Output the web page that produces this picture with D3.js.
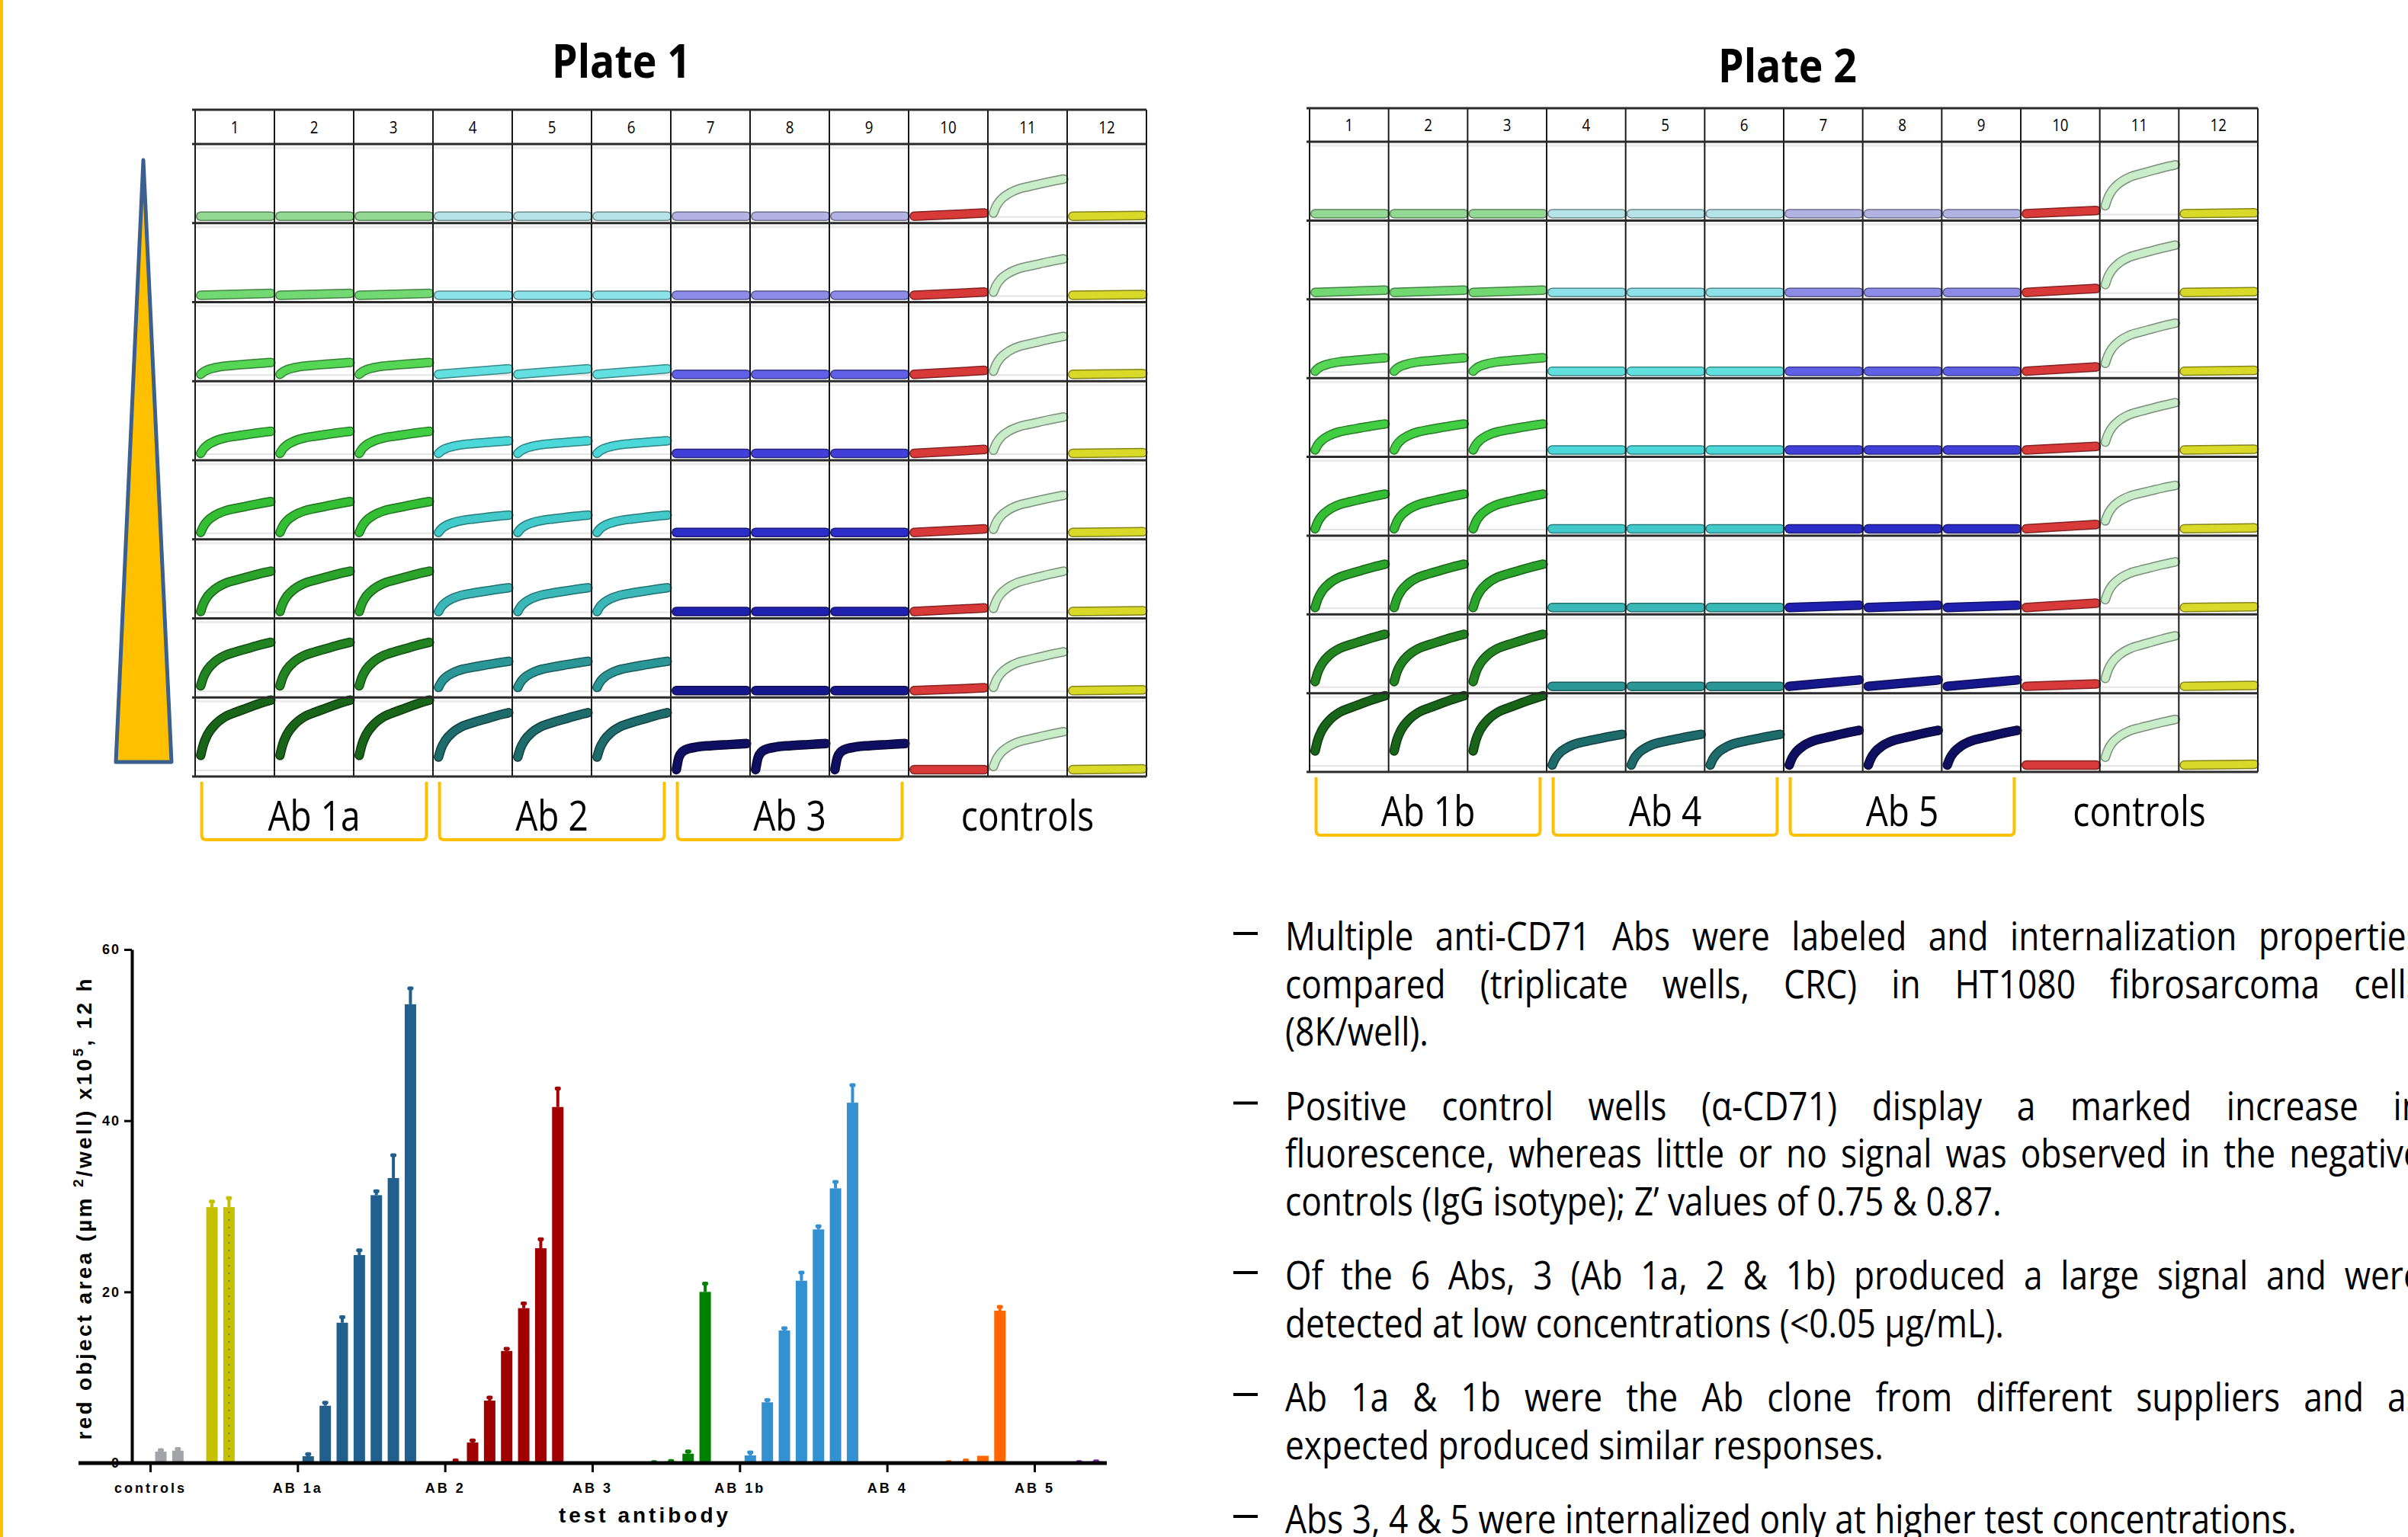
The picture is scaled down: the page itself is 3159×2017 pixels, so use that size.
<!DOCTYPE html>
<html>
<head>
<meta charset="utf-8">
<script src="https://cdn.jsdelivr.net/npm/d3@7"></script>
<style>
body { margin: 0; background: #fff; }
svg { display: block; }
</style>
</head>
<body>
<svg id="chart" width="3159" height="2017"></svg>
<script>
// ---------------- data: plate wells ----------------
var plateCols = d3.range(1, 13)
var plateRows = d3.range(8)

// final height of each well trace, as fraction of the well height (rows 1..8)
var ab1aAmp = [0, 0.025, 0.15, 0.28, 0.39, 0.51, 0.61, 0.88]
var ab2Amp = [0, 0, 0.07, 0.16, 0.22, 0.30, 0.37, 0.72]
var ab3Amp = [0, 0, 0, 0, 0, 0, 0, 0.33]
var ab1bAmp = [0, 0.03, 0.17, 0.33, 0.44, 0.55, 0.66, 0.88]
var ab4Amp = [0, 0, 0, 0, 0, 0, 0, 0.39]
var ab5Amp = [0, 0, 0, 0, 0, 0.03, 0.08, 0.44]
// first time point of the trace
var ab1aStart = [0, 0, 0, 0, 0, 0, 0.06, 0.18]
var ab2Start = [0, 0, 0, 0, 0, 0, 0.04, 0.16]
var ab1bStart = [0, 0, 0, 0, 0, 0, 0.06, 0.18]
var flatStart = [0, 0, 0, 0, 0, 0, 0, 0]
// controls: col 10 IgG (neg), col 11 a-CD71 (pos), col 12
var p1NegAmp = [0.04, 0.04, 0.05, 0.05, 0.045, 0.045, 0.035, 0]
var p2NegAmp = [0.04, 0.05, 0.055, 0.045, 0.055, 0.055, 0.03, 0]
var p1PosAmp = [0.47, 0.46, 0.48, 0.46, 0.47, 0.51, 0.49, 0.48]
var p2PosAmp = [0.62, 0.60, 0.61, 0.60, 0.55, 0.58, 0.64, 0.58]
var p1PosStart = 0.04
var p2PosStart = 0.1
var blankAmp = 0.01

// trace shapes read from the wells, [time fraction, signal fraction]
var riseProfile = [[0, 0], [0.04, 0.2], [0.1, 0.38], [0.2, 0.55], [0.35, 0.7], [0.5, 0.78], [0.65, 0.85], [0.8, 0.92], [0.92, 0.97], [1, 1]]
var plateauProfile = [[0, 0], [0.04, 0.5], [0.12, 0.75], [0.3, 0.87], [0.5, 0.92], [0.75, 0.96], [1, 1]]
var linProfile = [[0, 0], [1, 1]]

var greens = ["#93D893", "#72D972", "#55D655", "#42CE42", "#33BE33", "#2AA42A", "#218421", "#186418"]
var cyans = ["#B5E3E8", "#8CE2E8", "#62E0E0", "#4CD8D8", "#42CACA", "#3AB8B8", "#2B9696", "#1D6B6B"]
var blues = ["#B3B3E3", "#8C8CE6", "#6060E6", "#4040D8", "#2C2CC6", "#2020AE", "#17178C", "#0F0F62"]

// ---------------- data: bar chart ----------------
var barGroups = ["controls", "AB 1a", "AB 2", "AB 3", "AB 1b", "AB 4", "AB 5"]
var controlVals = [1.35, 1.45, null, 29.9, 29.9]
var controlErr = [0.2, 0.25, null, 0.7, 1.1]
var ab1aVals = [0.8, 6.7, 16.4, 24.3, 31.3, 33.3, 53.6]
var ab1aErr = [0.3, 0.4, 0.7, 0.6, 0.5, 2.7, 1.9]
var ab2Vals = [0.2, 2.4, 7.3, 13.1, 18.1, 25.1, 41.6]
var ab2Err = [0.15, 0.3, 0.4, 0.3, 0.6, 1.1, 2.2]
var ab3Vals = [0, 0, 0, 0.1, 0.2, 1.1, 20.0]
var ab3Err = [0, 0, 0, 0.05, 0.1, 0.3, 1.0]
var ab1bVals = [0.9, 7.1, 15.5, 21.3, 27.3, 32.1, 42.1]
var ab1bErr = [0.4, 0.3, 0.3, 1.0, 0.4, 0.8, 2.1]
var ab4Vals = [0, 0, 0, 0.1, 0.2, 0.85, 17.8]
var ab4Err = [0, 0, 0, 0.05, 0.15, 0, 0.5]
var ab5Vals = [0, 0, 0.1, 0.2]
var ab5Err = [0, 0, 0.05, 0.05]
var yTicks = [0, 20, 40, 60]

// ---------------- text ----------------
var bullets = [
  ["Multiple anti-CD71 Abs were labeled and internalization properties", "compared (triplicate wells, CRC) in HT1080 fibrosarcoma cells", "(8K/well)."],
  ["Positive control wells (\u03B1-CD71) display a marked increase in", "fluorescence, whereas little or no signal was observed in the negative", "controls (IgG isotype); Z\u2019 values of 0.75 & 0.87."],
  ["Of the 6 Abs, 3 (Ab 1a, 2 & 1b) produced a large signal and were", "detected at low concentrations (<0.05 \u00B5g/mL)."],
  ["Ab 1a & 1b were the Ab clone from different suppliers and as", "expected produced similar responses."],
  ["Abs 3, 4 & 5 were internalized only at higher test concentrations."]
]

var svg = d3.select("#chart")
var bodyFont = "'Open Sans', 'Noto Sans', sans-serif"
var chartFont = "'Liberation Sans', Arial, sans-serif"

function measure(str, size, weight) {
  var t = svg.append("text").attr("font-family", bodyFont).attr("font-size", size)
    .attr("font-weight", weight || 400).text(str)
  var w = t.node().getComputedTextLength()
  t.remove()
  return w
}
// the slide font is a narrow one, squeeze Open Sans to its width
var bodyScale = 785 / measure("expected produced similar responses.", 52)
var titleScale = 182 / measure("Plate 1", 60, 700)

function narrowText(x, y, str, size, anchor, weight, scale) {
  var g = svg.append("g").attr("transform", "translate(" + x + "," + y + ") scale(" + (scale || bodyScale) + ",1)")
  var t = g.append("text").attr("font-family", bodyFont).attr("font-size", size)
    .attr("font-weight", weight || 400).attr("text-anchor", anchor || "start")
    .attr("fill", "#000").text(str)
  return t
}

// left gold border
svg.append("rect").attr("x", 0).attr("y", 0).attr("width", 4).attr("height", 2017).attr("fill", "#FFC000")

// concentration triangle
svg.append("path")
  .attr("d", "M188,210 L225,1000 L152,1000 Z")
  .attr("fill", "#FFC000").attr("stroke", "#3B5F8E").attr("stroke-width", 5).attr("stroke-linejoin", "round")

// ---------------- plates ----------------
var plates = [
  { title: "Plate 1", titleX: 815, titleY: 102, x0: 256, x1: 1504, top: 144, head: 189, bottom: 1019,
    groups: [
      { name: "Ab 1a", amp: ab1aAmp, start: ab1aStart, colors: greens },
      { name: "Ab 2", amp: ab2Amp, start: ab2Start, colors: cyans },
      { name: "Ab 3", amp: ab3Amp, start: flatStart, colors: blues, plateau: true }
    ],
    neg: p1NegAmp, pos: p1PosAmp, posStart: p1PosStart },
  { title: "Plate 2", titleX: 2345, titleY: 108, x0: 1718, x1: 2962, top: 142, head: 186, bottom: 1013,
    groups: [
      { name: "Ab 1b", amp: ab1bAmp, start: ab1bStart, colors: greens },
      { name: "Ab 4", amp: ab4Amp, start: flatStart, colors: cyans },
      { name: "Ab 5", amp: ab5Amp, start: flatStart, colors: blues }
    ],
    neg: p2NegAmp, pos: p2PosAmp, posStart: p2PosStart }
]

var traceLine = d3.line().curve(d3.curveMonotoneX)

plates.forEach(function (p) {
  var xb = d3.scaleBand().domain(plateCols).range([p.x0, p.x1])
  var yb = d3.scaleBand().domain(plateRows).range([p.head, p.bottom])
  var w = xb.bandwidth(), h = yb.bandwidth()
  var g = svg.append("g")

  narrowText(p.titleX, p.titleY, p.title, 60, "middle", 700, titleScale)

  // well baselines (light grey)
  plateRows.forEach(function (r) {
    g.append("line").attr("x1", p.x0).attr("x2", p.x1)
      .attr("y1", yb(r) + h - 8).attr("y2", yb(r) + h - 8)
      .attr("stroke", "#e4e4e4").attr("stroke-width", 2)
    g.append("line").attr("x1", p.x0).attr("x2", p.x1)
      .attr("y1", yb(r) + 5).attr("y2", yb(r) + 5)
      .attr("stroke", "#ececec").attr("stroke-width", 3)
  })

  // traces
  var wells = []
  plateRows.forEach(function (r) {
    plateCols.forEach(function (c) {
      var d = { r: r, c: c, profile: riseProfile, start: 0 }
      if (c <= 9) {
        var grp = p.groups[Math.floor((c - 1) / 3)]
        d.amp = grp.amp[r]; d.start = grp.start[r]; d.color = grp.colors[r]
        if (grp.plateau && r === 7) d.profile = plateauProfile
        if (d.amp < 0.1) d.profile = linProfile
      } else if (c === 10) {
        d.amp = p.neg[r]; d.color = "#D83A3A"; d.profile = linProfile
      } else if (c === 11) {
        d.amp = p.pos[r]; d.start = p.posStart; d.color = "#C9ECC9"
      } else {
        d.amp = blankAmp; d.color = "#D9D92A"; d.profile = linProfile
      }
      wells.push(d)
    })
  })

  function tracePath(d) {
    var left = xb(d.c)
    var base = yb(d.r) + h - 9
    var xs = d3.scaleLinear().domain([0, 1]).range([left + 0.07 * w, left + 0.955 * w])
    var ys = d3.scaleLinear().domain([0, 1]).range([base, base - h])
    return traceLine(d.profile.map(function (pt) {
      return [xs(pt[0]), ys(d.start + (d.amp - d.start) * pt[1])]
    }))
  }

  g.selectAll(".trace-edge").data(wells).join("path")
    .attr("class", "trace-edge")
    .attr("d", tracePath)
    .attr("fill", "none")
    .attr("stroke", function (d) { return d3.color(d.color).darker(1.4) })
    .attr("stroke-width", 12.5).attr("stroke-linecap", "round").attr("stroke-linejoin", "round")
  g.selectAll(".trace").data(wells).join("path")
    .attr("class", "trace")
    .attr("d", tracePath)
    .attr("fill", "none")
    .attr("stroke", function (d) { return d.color })
    .attr("stroke-width", 9.5).attr("stroke-linecap", "round").attr("stroke-linejoin", "round")

  // grid
  plateCols.concat([13]).forEach(function (c) {
    var x = c === 13 ? p.x1 : xb(c)
    g.append("line").attr("x1", x).attr("x2", x).attr("y1", p.top).attr("y2", p.bottom)
      .attr("stroke", "#1a1a1a").attr("stroke-width", 2)
  })
  ;[p.top, p.head].concat(plateRows.map(function (r) { return yb(r) + h })).forEach(function (y) {
    g.append("line").attr("x1", p.x0 - 4).attr("x2", p.x1).attr("y1", y).attr("y2", y)
      .attr("stroke", "#2a2a2a").attr("stroke-width", 3)
  })
  plateCols.forEach(function (c) {
    narrowText(xb(c) + w / 2, (p.top + p.head) / 2 + 8, String(c), 22, "middle")
  })

  // brackets + labels
  var labelY = p.bottom + 71
  p.groups.forEach(function (grp, i) {
    var cx = xb(i * 3 + 1) + 1.5 * w
    var half = 1.5 * w * 0.945
    var yt = p.bottom + 7, yb2 = p.bottom + 83, rr = 6
    svg.append("path")
      .attr("d", "M" + (cx - half) + "," + yt + " L" + (cx - half) + "," + (yb2 - rr) +
        " Q" + (cx - half) + "," + yb2 + " " + (cx - half + rr) + "," + yb2 +
        " L" + (cx + half - rr) + "," + yb2 + " Q" + (cx + half) + "," + yb2 + " " + (cx + half) + "," + (yb2 - rr) +
        " L" + (cx + half) + "," + yt)
      .attr("fill", "none").attr("stroke", "#FFC000").attr("stroke-width", 4)
    narrowText(cx, labelY, grp.name, 54, "middle")
  })
  narrowText(xb(10) + 1.5 * w, labelY, "controls", 54, "middle")
})

// ---------------- bar chart ----------------
var by = d3.scaleLinear().domain([0, 60]).range([1920, 1246])
var bx = d3.scalePoint().domain(barGroups).range([197, 1357])
var slotStep = 22.35, slotStart = 14, barW = 15

var barSeries = [
  { group: "controls", vals: controlVals, err: controlErr, colors: ["#A3A3AA", "#A3A3AA", null, "#C5C000", "#C5C000"] },
  { group: "AB 1a", vals: ab1aVals, err: ab1aErr, color: "#21608C" },
  { group: "AB 2", vals: ab2Vals, err: ab2Err, color: "#A00000" },
  { group: "AB 3", vals: ab3Vals, err: ab3Err, color: "#008000" },
  { group: "AB 1b", vals: ab1bVals, err: ab1bErr, color: "#3391D1" },
  { group: "AB 4", vals: ab4Vals, err: ab4Err, color: "#FF6600" },
  { group: "AB 5", vals: ab5Vals, err: ab5Err, color: "#7A1FA0" }
]
var bars = []
barSeries.forEach(function (s) {
  s.vals.forEach(function (v, i) {
    if (v === null) return
    bars.push({ group: s.group, i: i, v: v, e: s.err[i], color: s.colors ? s.colors[i] : s.color })
  })
})
function barX(d) { return bx(d.group) + slotStart + d.i * slotStep }

var bc = svg.append("g")
bc.selectAll(".bar").data(bars).join("rect")
  .attr("class", "bar")
  .attr("x", function (d) { return barX(d) - barW / 2 })
  .attr("y", function (d) { return by(d.v) })
  .attr("width", barW)
  .attr("height", function (d) { return by(0) - by(d.v) })
  .attr("fill", function (d) { return d.color })

// error bars
var errBars = bars.filter(function (d) { return d.e > 0 })
bc.selectAll(".err").data(errBars).join("line")
  .attr("class", "err")
  .attr("x1", barX).attr("x2", barX)
  .attr("y1", function (d) { return by(d.v) })
  .attr("y2", function (d) { return by(d.v + d.e) })
  .attr("stroke", function (d) { return d.color }).attr("stroke-width", 4)
bc.selectAll(".cap").data(errBars).join("rect")
  .attr("class", "cap")
  .attr("x", function (d) { return barX(d) - 4 })
  .attr("y", function (d) { return by(d.v + d.e) - 2 })
  .attr("width", 8).attr("height", 5).attr("rx", 2)
  .attr("fill", function (d) { return d.color })

// dotted fill of the second positive-control bar
var dotted = bars.filter(function (d) { return d.group === "controls" && d.i === 4 })
bc.selectAll(".dots").data(dotted).join("line")
  .attr("class", "dots")
  .attr("x1", barX).attr("x2", barX)
  .attr("y1", function (d) { return by(d.v) + 6 }).attr("y2", by(0) - 2)
  .attr("stroke", "#7d7a52").attr("stroke-width", 2).attr("stroke-dasharray", "2,8")

// axes
var yAxis = bc.append("g").attr("transform", "translate(173,0)")
  .call(d3.axisLeft(by).tickValues(yTicks).tickSize(10).tickSizeOuter(0).tickPadding(5))
yAxis.select(".domain").attr("stroke-width", 4)
yAxis.selectAll(".tick line").attr("stroke-width", 3)
yAxis.selectAll(".tick text").attr("font-family", chartFont).attr("font-size", 18)
  .attr("font-weight", 700).attr("letter-spacing", 2).attr("fill", "#000")

var xAxis = bc.append("g").attr("transform", "translate(0,1920)")
  .call(d3.axisBottom(bx).tickSize(12).tickPadding(14))
xAxis.select(".domain").remove()
xAxis.selectAll(".tick line").attr("stroke-width", 3)
xAxis.selectAll(".tick text").attr("font-family", chartFont).attr("font-size", 18)
  .attr("font-weight", 700).attr("letter-spacing", 3).attr("fill", "#000")
bc.append("line").attr("x1", 103).attr("x2", 1452).attr("y1", 1920).attr("y2", 1920)
  .attr("stroke", "#000").attr("stroke-width", 5)

bc.append("text").attr("x", 846).attr("y", 1998).attr("text-anchor", "middle")
  .attr("font-family", chartFont).attr("font-size", 28).attr("font-weight", 700)
  .attr("letter-spacing", 4).text("test antibody")

var yTitle = bc.append("text").attr("transform", "translate(120,1587) rotate(-90)")
  .attr("text-anchor", "middle").attr("font-family", chartFont).attr("font-size", 28)
  .attr("font-weight", 700).attr("textLength", 605).attr("lengthAdjust", "spacing")
yTitle.append("tspan").text("red object area (\u00B5m ")
yTitle.append("tspan").attr("dy", -11).attr("font-size", 19).text("2")
yTitle.append("tspan").attr("dy", 11).text("/well) x10")
yTitle.append("tspan").attr("dy", -11).attr("font-size", 19).text("5")
yTitle.append("tspan").attr("dy", 11).text(", 12 h")

// ---------------- bullet text ----------------
var textLeft = 1686, textRight = 3178, bodySize = 52
var lineH = 62.5, bulletGap = 35, firstBase = 1247

function justifyLine(y, str) {
  var avail = (textRight - textLeft) / bodyScale
  var spaces = str.split(" ").length - 1
  var extra = (avail - measure(str, bodySize)) / spaces
  narrowText(textLeft, y, str, bodySize, "start").attr("word-spacing", extra)
}

var lineCount = 0
bullets.forEach(function (lines, bi) {
  lines.forEach(function (ln, li) {
    var y = firstBase + lineCount * lineH + bi * bulletGap
    if (li === 0) {
      svg.append("line").attr("x1", 1618).attr("x2", 1650).attr("y1", y - 22).attr("y2", y - 22)
        .attr("stroke", "#000").attr("stroke-width", 4)
    }
    if (li < lines.length - 1) justifyLine(y, ln)
    else narrowText(textLeft, y, ln, bodySize, "start")
    lineCount++
  })
})
</script>
</body>
</html>
